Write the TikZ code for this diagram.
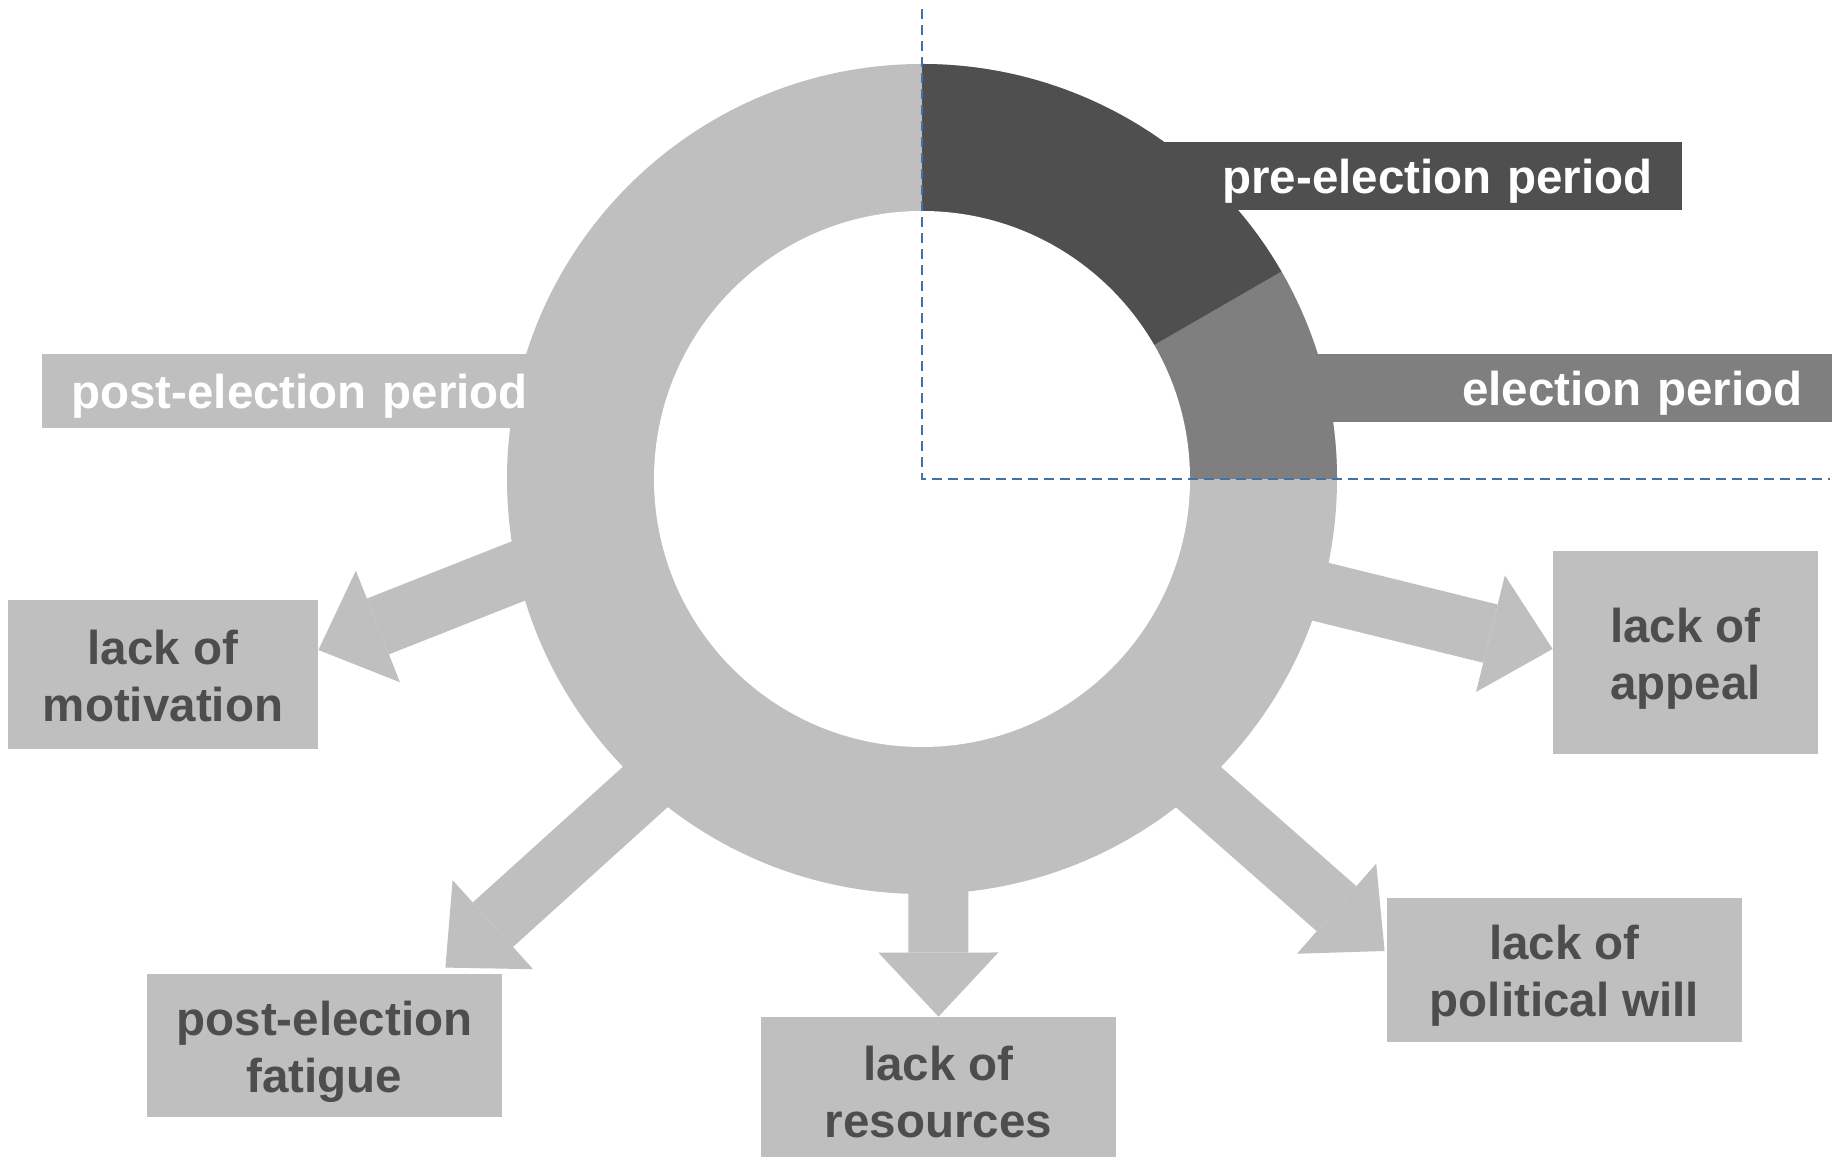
\documentclass[tikz,border=0pt]{standalone}
\usepackage{fontspec}
\setmainfont{Liberation Sans}
\usetikzlibrary{arrows.meta,calc}
\definecolor{ringlight}{RGB}{191,191,191}
\definecolor{ringmid}{RGB}{127,127,127}
\definecolor{ringdark}{RGB}{79,79,79}
\definecolor{causetext}{RGB}{77,77,77}
\definecolor{guideblue}{RGB}{68,114,166}
\tikzstyle{causebox}=[fill=ringlight,inner sep=0pt]
\tikzstyle{causetxt}=[text=causetext,font=\bfseries\fontsize{23.75}{28.5}\selectfont,align=center,inner sep=0pt]
\tikzstyle{period}=[text=white,font=\bfseries\fontsize{23.75}{28.5}\selectfont,minimum height=34pt,inner ysep=0pt,inner xsep=14.5pt,text depth=0pt]
\tikzstyle{blockarrow}=[draw=ringlight,line width=30pt,-{Triangle[width=60pt,length=32pt,line width=0pt]}]
\tikzstyle{guide}=[draw=guideblue,line width=1pt,dash pattern=on 5pt off 3pt]

\begin{document}
\begin{tikzpicture}[x=0.5pt,y=0.5pt]
    \useasboundingbox (0,0) rectangle (1841,1156);
    \coordinate (c) at (922,677);

    % the election cycle ring
    \fill[ringlight] (c) circle (415);
    \fill[ringmid] (c) -- ++(0:415) arc (0:30:415) -- cycle;
    \fill[ringdark] (c) -- ++(30:415) arc (30:90:415) -- cycle;
    \fill[white] (c) circle (268);

    % causes around the ring
    \foreach \name/\pos/\w/\h/\dy/\txt in {{motiv/(163,481.5)/155pt/74.5pt/-2/{lack of\\motivation}},
        {appeal/(1685.5,503.5)/132.5pt/101.5pt/-6/{lack of\\appeal}},
        {will/(1564.5,186)/177.5pt/72pt/-6/{lack of\\political will}},
        {res/(938.5,64)/177.5pt/75pt/0/{lack of\\resources}},
        {fatigue/(324.5,110.5)/177.5pt/71.5pt/-6/{post-election\\fatigue}}}
    {
        \node[causebox,minimum width=\w,minimum height=\h] (\name) at \pos {};
        \node[causetxt] (\name-txt) at ($(\name)+(0,\dy)$) {\txt};
    }

    % arrows from the ring to the causes
    \coordinate (s1) at (574,607);
    \coordinate (s2) at (689.5,409);
    \coordinate (s3) at (938,405);
    \coordinate (s4) at (1157.8,404.6);
    \coordinate (s5) at (1265,578);
    \coordinate (t1) at ($(motiv.east)+(0,24.5)$);
    \coordinate (t2) at ($(fatigue.north east)+(-57,6)$);
    \coordinate (t3) at (res.north);
    \coordinate (t4) at ($(will.west)+(-2,19)$);
    \coordinate (t5) at ($(appeal.west)+(0,3.5)$);
    \foreach \s/\t in {s1/t1, s2/t2, s3/t3, s4/t4, s5/t5}
        \draw[blockarrow] (\s) -- (\t);

    % period labels
    \node[period,fill=ringdark,anchor=east,text width=234pt,align=right] (pre) at (1682,980) {pre-election period};
    \node[period,fill=ringmid,anchor=east,text width=229.5pt,align=right] (elec) at (1832,768) {election period};
    \node[period,fill=ringlight,anchor=west,text width=230pt,align=left,minimum height=37pt] (post) at (42,765) {post-election period};

    % quarter guides
    \coordinate (gtop) at (922,1147);
    \coordinate (gright) at (1830,677);
    \draw[guide] (gtop) -- (c) -- (gright);
\end{tikzpicture}
\end{document}
